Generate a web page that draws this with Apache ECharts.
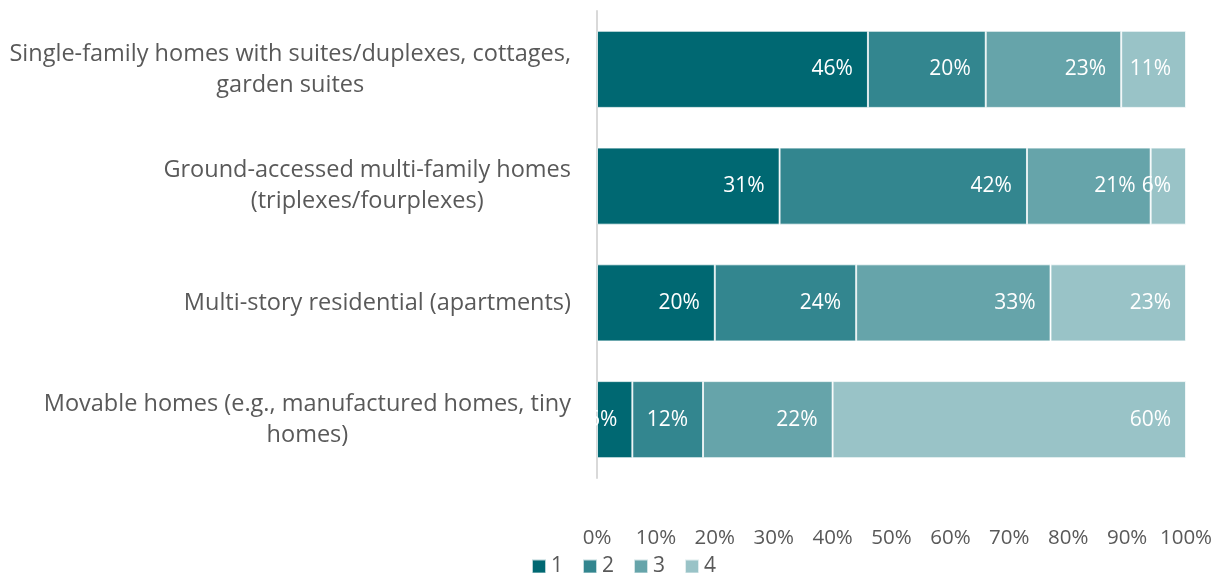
<!DOCTYPE html>
<html>
<head>
<meta charset="utf-8">
<script src="https://cdn.jsdelivr.net/npm/echarts@6/dist/echarts.min.js"></script>
<style>
  html, body { margin: 0; padding: 0; background: #fff; }
  #chart { width: 1220px; height: 573px; }
</style>
</head>
<body>
<div id="chart"></div>
<script>
// Housing types, listed top to bottom
const categories = [
  'Single-family homes with suites/duplexes, cottages, garden suites',
  'Ground-accessed multi-family homes (triplexes/fourplexes)',
  'Multi-story residential (apartments)',
  'Movable homes (e.g., manufactured homes, tiny homes)'
];
const seriesNames = ['1', '2', '3', '4'];
// Share of responses (%) per rating, one array per rating, same order as categories
const rating1 = [46, 31, 20, 6];
const rating2 = [20, 42, 24, 12];
const rating3 = [23, 21, 33, 22];
const rating4 = [11, 6, 23, 60];
const xTicks = [0, 10, 20, 30, 40, 50, 60, 70, 80, 90, 100];

const colors = ['#006872', '#33868F', '#66A4AA', '#99C3C7'];
const values = [rating1, rating2, rating3, rating4];
const FONT = '"Open Sans", "Noto Sans", sans-serif';

// word-wrap a category name into lines of at most maxChars characters
function wrap(text, maxChars) {
  const words = text.split(' ');
  const lines = [];
  let cur = '';
  words.forEach(w => {
    const next = cur ? cur + ' ' + w : w;
    if (next.length > maxChars && cur) { lines.push(cur); cur = w; }
    else cur = next;
  });
  if (cur) lines.push(cur);
  return lines;
}

const chart = echarts.init(document.getElementById('chart'), null, { renderer: 'canvas' });

chart.setOption({
  animation: false,
  color: colors,
  grid: { left: 597, right: 34, top: 11, bottom: 95, containLabel: false },
  legend: {
    data: seriesNames,
    left: 526,
    top: 551,
    itemWidth: 14,
    itemHeight: 14,
    itemGap: 19,
    icon: 'rect',
    textStyle: { color: '#595959', fontSize: 21, fontFamily: FONT }
  },
  xAxis: {
    type: 'value',
    min: xTicks[0],
    max: xTicks[xTicks.length - 1],
    interval: xTicks[1] - xTicks[0],
    axisLine: { show: false },
    axisTick: { show: false },
    splitLine: { show: false },
    axisLabel: {
      color: '#595959',
      fontSize: 20.5,
      fontFamily: FONT,
      margin: 50,
      formatter: v => v + '%'
    }
  },
  yAxis: {
    type: 'category',
    data: categories,
    inverse: true,
    axisLine: { show: true, lineStyle: { color: '#D9D9D9', width: 2 } },
    axisTick: { show: false },
    axisLabel: {
      color: '#595959',
      fontSize: 23.5,
      fontFamily: FONT,
      margin: 26,
      lineHeight: 31,
      formatter: v => wrap(v, 51).map(l => '{c|' + l + '}').join('\n'),
      rich: {
        c: { align: 'center', color: '#595959', fontSize: 23.5, fontFamily: FONT, lineHeight: 31 }
      }
    }
  },
  series: seriesNames.map((name, i) => ({
    name: name,
    type: 'bar',
    stack: 'total',
    barWidth: '66%',
    data: values[i],
    itemStyle: { color: colors[i], borderColor: 'rgba(255,255,255,0.7)', borderWidth: 1 },
    label: {
      show: true,
      position: 'insideRight',
      distance: 15,
      color: '#FFFFFF',
      fontSize: 21,
      fontFamily: FONT,
      formatter: p => p.value + '%'
    }
  }))
});
</script>
</body>
</html>
